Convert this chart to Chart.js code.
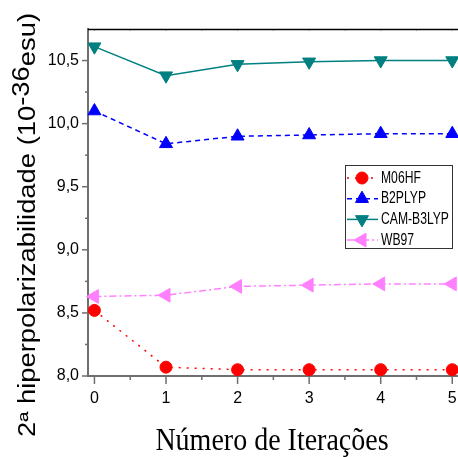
<!DOCTYPE html>
<html>
<head>
<meta charset="utf-8">
<script src="https://cdn.jsdelivr.net/npm/chart.js@4.4.1/dist/chart.umd.min.js"></script>
<style>
  html, body { margin: 0; padding: 0; background: #fff; }
  #wrap { width: 458px; height: 457px; position: relative; }
</style>
</head>
<body>
<div id="wrap"><canvas id="hyperChart"></canvas></div>
<script>
// iterations on the x axis
const iteracoes = [0, 1, 2, 3, 4, 5];

// second hyperpolarizability per functional (10^-36 esu)
const m06hf    = [8.52, 8.07, 8.05, 8.05, 8.05, 8.05];
const b2plyp   = [10.10, 9.84, 9.90, 9.91, 9.92, 9.92];
const camB3lyp = [10.61, 10.38, 10.47, 10.49, 10.50, 10.50];
const wb97     = [8.63, 8.64, 8.71, 8.72, 8.73, 8.73];

// tick values
const xTicks = [0, 1, 2, 3, 4, 5];
const yTicks = [8.0, 8.5, 9.0, 9.5, 10.0, 10.5];

const axisGray = '#6f6f6f';
const sansFont = '"Liberation Sans", Arial, sans-serif';

const pts = (ys) => iteracoes.map((x, i) => ({ x: x, y: ys[i] }));

function serie(label, ys, color, dash, style, rot, r) {
    return {
        label: label,
        data: pts(ys),
        borderColor: color,
        backgroundColor: color,
        borderWidth: 1.5,
        borderDash: dash,
        pointStyle: style,
        rotation: rot,
        pointRadius: r,
        pointBorderWidth: 1,
        pointBackgroundColor: color,
        pointBorderColor: color,
        tension: 0,
        clip: false,
    };
}

// minor ticks, top frame line, axis titles and the boxed legend
const decor = {
    id: 'decor',
    afterDraw(chart) {
        const ctx = chart.ctx;
        const xs = chart.scales.x, ys = chart.scales.y;
        const area = chart.chartArea;

        ctx.save();
        ctx.strokeStyle = axisGray;
        ctx.lineWidth = 1.5;
        // y ticks, major + minor
        for (let i = 0; i < yTicks.length; i++) {
            const py = ys.getPixelForValue(yTicks[i]);
            ctx.beginPath(); ctx.moveTo(area.left - 6, py); ctx.lineTo(area.left, py); ctx.stroke();
            const mid = yTicks[i] + 0.25;
            if (mid < ys.max) {
                const pm = ys.getPixelForValue(mid);
                ctx.beginPath(); ctx.moveTo(area.left - 3, pm); ctx.lineTo(area.left, pm); ctx.stroke();
            }
        }
        // x ticks, major + minor
        for (let i = 0; i < xTicks.length; i++) {
            const px = xs.getPixelForValue(xTicks[i]);
            ctx.beginPath(); ctx.moveTo(px, area.bottom); ctx.lineTo(px, area.bottom + 8); ctx.stroke();
            const mid = xTicks[i] + 0.5;
            if (mid < xs.max) {
                const pm = xs.getPixelForValue(mid);
                ctx.beginPath(); ctx.moveTo(pm, area.bottom); ctx.lineTo(pm, area.bottom + 4); ctx.stroke();
            }
        }
        // small marks under the top line
        ctx.strokeStyle = '#bbb';
        ctx.lineWidth = 1;
        for (let v = 0; v < xs.max; v += 0.5) {
            const px = xs.getPixelForValue(v);
            ctx.beginPath(); ctx.moveTo(px, area.top); ctx.lineTo(px, area.top + 2); ctx.stroke();
        }
        // top frame line
        ctx.strokeStyle = '#000';
        ctx.lineWidth = 1.5;
        ctx.beginPath(); ctx.moveTo(area.left, area.top + 0.5); ctx.lineTo(chart.width, area.top + 0.5); ctx.stroke();
        ctx.restore();

        // y axis title with superscript exponent
        ctx.save();
        ctx.fillStyle = '#000';
        ctx.font = '23px ' + sansFont;
        ctx.textBaseline = 'alphabetic';
        ctx.textAlign = 'left';
        const parts = [['2ª hiperpolarizabilidade (10', 0], ['-36', 6], ['esu)', 0]];
        let total = 0;
        parts.forEach(p => { total += ctx.measureText(p[0]).width; });
        ctx.translate(35, 437);
        ctx.rotate(-Math.PI / 2);
        ctx.scale(424 / total, 1);
        let cx = 0;
        parts.forEach(p => {
            ctx.fillText(p[0], cx, -p[1]);
            cx += ctx.measureText(p[0]).width;
        });
        ctx.restore();

        // x axis title
        ctx.save();
        ctx.fillStyle = '#000';
        ctx.font = '28px "Liberation Serif", "Times New Roman", serif';
        ctx.textAlign = 'center';
        ctx.textBaseline = 'alphabetic';
        ctx.translate(272, 450);
        ctx.scale(1, 1.12);
        ctx.fillText('Número de Iterações', 0, 0);
        ctx.restore();

        // legend box
        const lx = 345, ly = 165, lw = 107, lh = 83;
        ctx.save();
        ctx.fillStyle = '#fff';
        ctx.fillRect(lx, ly, lw, lh);
        ctx.strokeStyle = '#333';
        ctx.lineWidth = 1;
        ctx.strokeRect(lx + 0.5, ly + 0.5, lw, lh);
        chart.data.datasets.forEach((ds, i) => {
            const ry = ly + 13 + i * 20.7;
            ctx.strokeStyle = ds.borderColor;
            ctx.lineWidth = ds.borderWidth;
            ctx.setLineDash(ds.borderDash);
            ctx.beginPath(); ctx.moveTo(lx + 2, ry); ctx.lineTo(lx + 33, ry); ctx.stroke();
            ctx.setLineDash([]);
            ctx.fillStyle = ds.pointBackgroundColor;
            ctx.strokeStyle = ds.pointBorderColor;
            ctx.lineWidth = 1;
            Chart.helpers.drawPoint(ctx, { pointStyle: ds.pointStyle, rotation: ds.rotation, radius: ds.pointRadius, borderWidth: 1 }, lx + 17, ry);
            ctx.save();
            ctx.fillStyle = '#000';
            ctx.font = '15px ' + sansFont;
            ctx.textBaseline = 'middle';
            ctx.translate(lx + 36, ry);
            ctx.scale(0.81, 1.09);
            ctx.fillText(ds.label, 0, 0);
            ctx.restore();
        });
        ctx.restore();
    }
};

new Chart(document.getElementById('hyperChart').getContext('2d'), {
    type: 'line',
    data: {
        datasets: [
            serie('M06HF', m06hf, '#ff0000', [2, 6], 'circle', 0, 6),
            serie('B2PLYP', b2plyp, '#0000ff', [5, 4], 'triangle', 0, 7.5),
            serie('CAM-B3LYP', camB3lyp, '#008080', [], 'triangle', 180, 7.5),
            serie('WB97', wb97, '#ff80ff', [7, 3, 2, 3], 'triangle', -90, 8),
        ],
    },
    options: {
        responsive: true,
        maintainAspectRatio: false,
        animation: false,
        layout: { autoPadding: false, padding: { top: 29, right: 0, bottom: 0, left: 0 } },
        plugins: {
            legend: { display: false },
            tooltip: { enabled: false },
        },
        scales: {
            x: {
                type: 'linear',
                min: -0.09,
                max: 5.08,
                afterFit: (s) => { s.height = 81; s.paddingLeft = 0; s.paddingRight = 0; },
                afterBuildTicks: (s) => { s.ticks = xTicks.map(v => ({ value: v })); },
                grid: { display: false, drawTicks: false },
                border: { display: true, color: axisGray, width: 2 },
                ticks: {
                    color: '#000',
                    padding: 13,
                    font: { family: sansFont, size: 16 },
                    callback: (v) => String(v),
                },
            },
            y: {
                min: 8.0,
                max: 10.75,
                afterFit: (s) => { s.width = 88; s.paddingTop = 0; s.paddingBottom = 0; },
                afterBuildTicks: (s) => { s.ticks = yTicks.map(v => ({ value: v })); },
                grid: { display: false, drawTicks: false },
                border: { display: true, color: axisGray, width: 2 },
                ticks: {
                    color: '#000',
                    padding: 9,
                    font: { family: sansFont, size: 16 },
                    callback: (v) => v.toFixed(1).replace('.', ','),
                },
            },
        },
    },
    plugins: [decor],
});
</script>
</body>
</html>
